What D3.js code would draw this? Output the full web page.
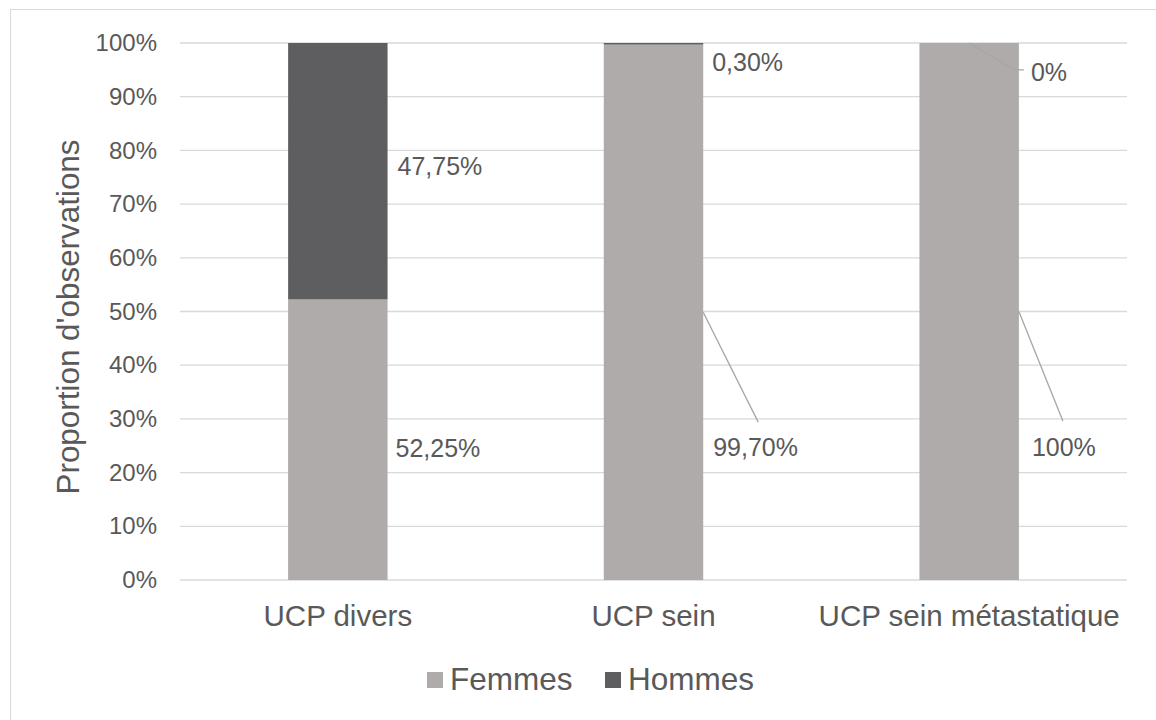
<!DOCTYPE html>
<meta charset="utf-8">
<script src="https://d3js.org/d3.v7.min.js"></script>
<style>
  body { margin: 0; background: #fff; }
  text { font-family: "Liberation Sans", Arial, sans-serif; fill: #595959; }
</style>
<div id="my_dataviz"></div>
<script>

// data
var categories = ["UCP divers", "UCP sein", "UCP sein métastatique"];
var femmes = [52.25, 99.70, 100];
var hommes = [47.75, 0.30, 0];
var femmesLabels = ["52,25%", "99,70%", "100%"];
var hommesLabels = ["47,75%", "0,30%", "0%"];
var yTicks = [0, 10, 20, 30, 40, 50, 60, 70, 80, 90, 100];

var colFemmes = "#afabab", colHommes = "#5e5e60";

var W = 1156, H = 720;
var margin = {top: 43, left: 180, right: 29, bottom: 140};
var width = W - margin.left - margin.right,
    height = H - margin.top - margin.bottom;

var svg = d3.select("#my_dataviz")
  .append("svg")
    .attr("width", W)
    .attr("height", H);

// outer frame (right and bottom edges fall outside the picture)
svg.append("rect")
  .attr("x", 10.5).attr("y", 9.5)
  .attr("width", W + 20).attr("height", H + 20)
  .attr("fill", "none").attr("stroke", "#d9d9d9");

var g = svg.append("g")
  .attr("transform", "translate(" + margin.left + "," + margin.top + ")");

var x = d3.scaleBand()
  .domain(categories)
  .range([0, width])
  .paddingInner(0.685)
  .paddingOuter(0.3425);

var y = d3.scaleLinear()
  .domain([0, 100])
  .range([height, 0]);

// gridlines
g.selectAll(".grid")
  .data(yTicks)
  .enter().append("line")
    .attr("x1", 0).attr("x2", width)
    .attr("y1", function(d) { return y(d); })
    .attr("y2", function(d) { return y(d); })
    .attr("stroke", "#d9d9d9")
    .attr("stroke-width", 1.3);

// y axis
var yAxis = g.append("g")
  .call(d3.axisLeft(y).tickValues(yTicks).tickSize(0).tickPadding(23)
    .tickFormat(function(d) { return d + "%"; }));
yAxis.select(".domain").remove();
yAxis.selectAll("text")
  .style("font-size", "24px")
  .style("font-family", "Liberation Sans, Arial, sans-serif")
  .attr("fill", "#595959");

// x axis
var xAxis = g.append("g")
  .attr("transform", "translate(0," + height + ")")
  .call(d3.axisBottom(x).tickSize(0));
xAxis.select(".domain").remove();
xAxis.selectAll("text")
  .attr("y", 46).attr("dy", null)
  .style("font-size", "29.5px")
  .style("font-family", "Liberation Sans, Arial, sans-serif")
  .attr("fill", "#595959");

// axis title
svg.append("text")
  .attr("transform", "translate(79,317) rotate(-90)")
  .attr("text-anchor", "middle")
  .style("font-size", "31.4px")
  .text("Proportion d'observations");

// bars
g.selectAll(".bf")
  .data(categories)
  .enter().append("rect")
    .attr("x", function(d) { return x(d); })
    .attr("width", x.bandwidth())
    .attr("y", function(d, i) { return y(femmes[i]); })
    .attr("height", function(d, i) { return height - y(femmes[i]); })
    .attr("fill", colFemmes);

g.selectAll(".bh")
  .data(categories)
  .enter().append("rect")
    .attr("x", function(d) { return x(d); })
    .attr("width", x.bandwidth())
    .attr("y", function(d, i) { return y(femmes[i] + hommes[i]); })
    .attr("height", function(d, i) { return y(femmes[i]) - y(femmes[i] + hommes[i]); })
    .attr("fill", colHommes);

// data labels
var right = function(i) { return x(categories[i]) + x.bandwidth(); };
var mid = function(i) { return x(categories[i]) + x.bandwidth() / 2; };
var label = function(px, v, t) {
  g.append("text").attr("x", px).attr("y", y(v))
    .style("font-size", "25px").text(t);
};
var leader = function(pts) {
  g.append("polyline")
    .attr("points", pts.map(function(p) { return [p[0], y(p[1])]; }).join(" "))
    .attr("fill", "none").attr("stroke", "#a6a6a6").attr("stroke-width", 1.3);
};

// UCP divers: labels beside the segments
label(right(0) + 10, 75.4, hommesLabels[0]);
label(right(0) + 8, 22.9, femmesLabels[0]);

// UCP sein
label(right(1) + 9, 94.8, hommesLabels[1]);
leader([[right(1), femmes[1] / 2], [right(1) + 55, 29.4]]);
label(right(1) + 10, 23.1, femmesLabels[1]);

// UCP sein métastatique
leader([[mid(2), 100], [mid(2) + 45, 95], [right(2) + 5, 95]]);
label(right(2) + 12, 92.9, hommesLabels[2]);
leader([[right(2), femmes[2] / 2], [right(2) + 44, 29.6]]);
label(right(2) + 13, 23.1, femmesLabels[2]);

// legend
var legend = [["Femmes", colFemmes, 427], ["Hommes", colHommes, 605]];
var lg = svg.selectAll(".lg").data(legend).enter().append("g");
lg.append("rect")
  .attr("x", function(d) { return d[2]; }).attr("y", 672)
  .attr("width", 16).attr("height", 16)
  .attr("fill", function(d) { return d[1]; });
lg.append("text")
  .attr("x", function(d) { return d[2] + 23; }).attr("y", 690)
  .style("font-size", "31.5px")
  .text(function(d) { return d[0]; });

</script>
